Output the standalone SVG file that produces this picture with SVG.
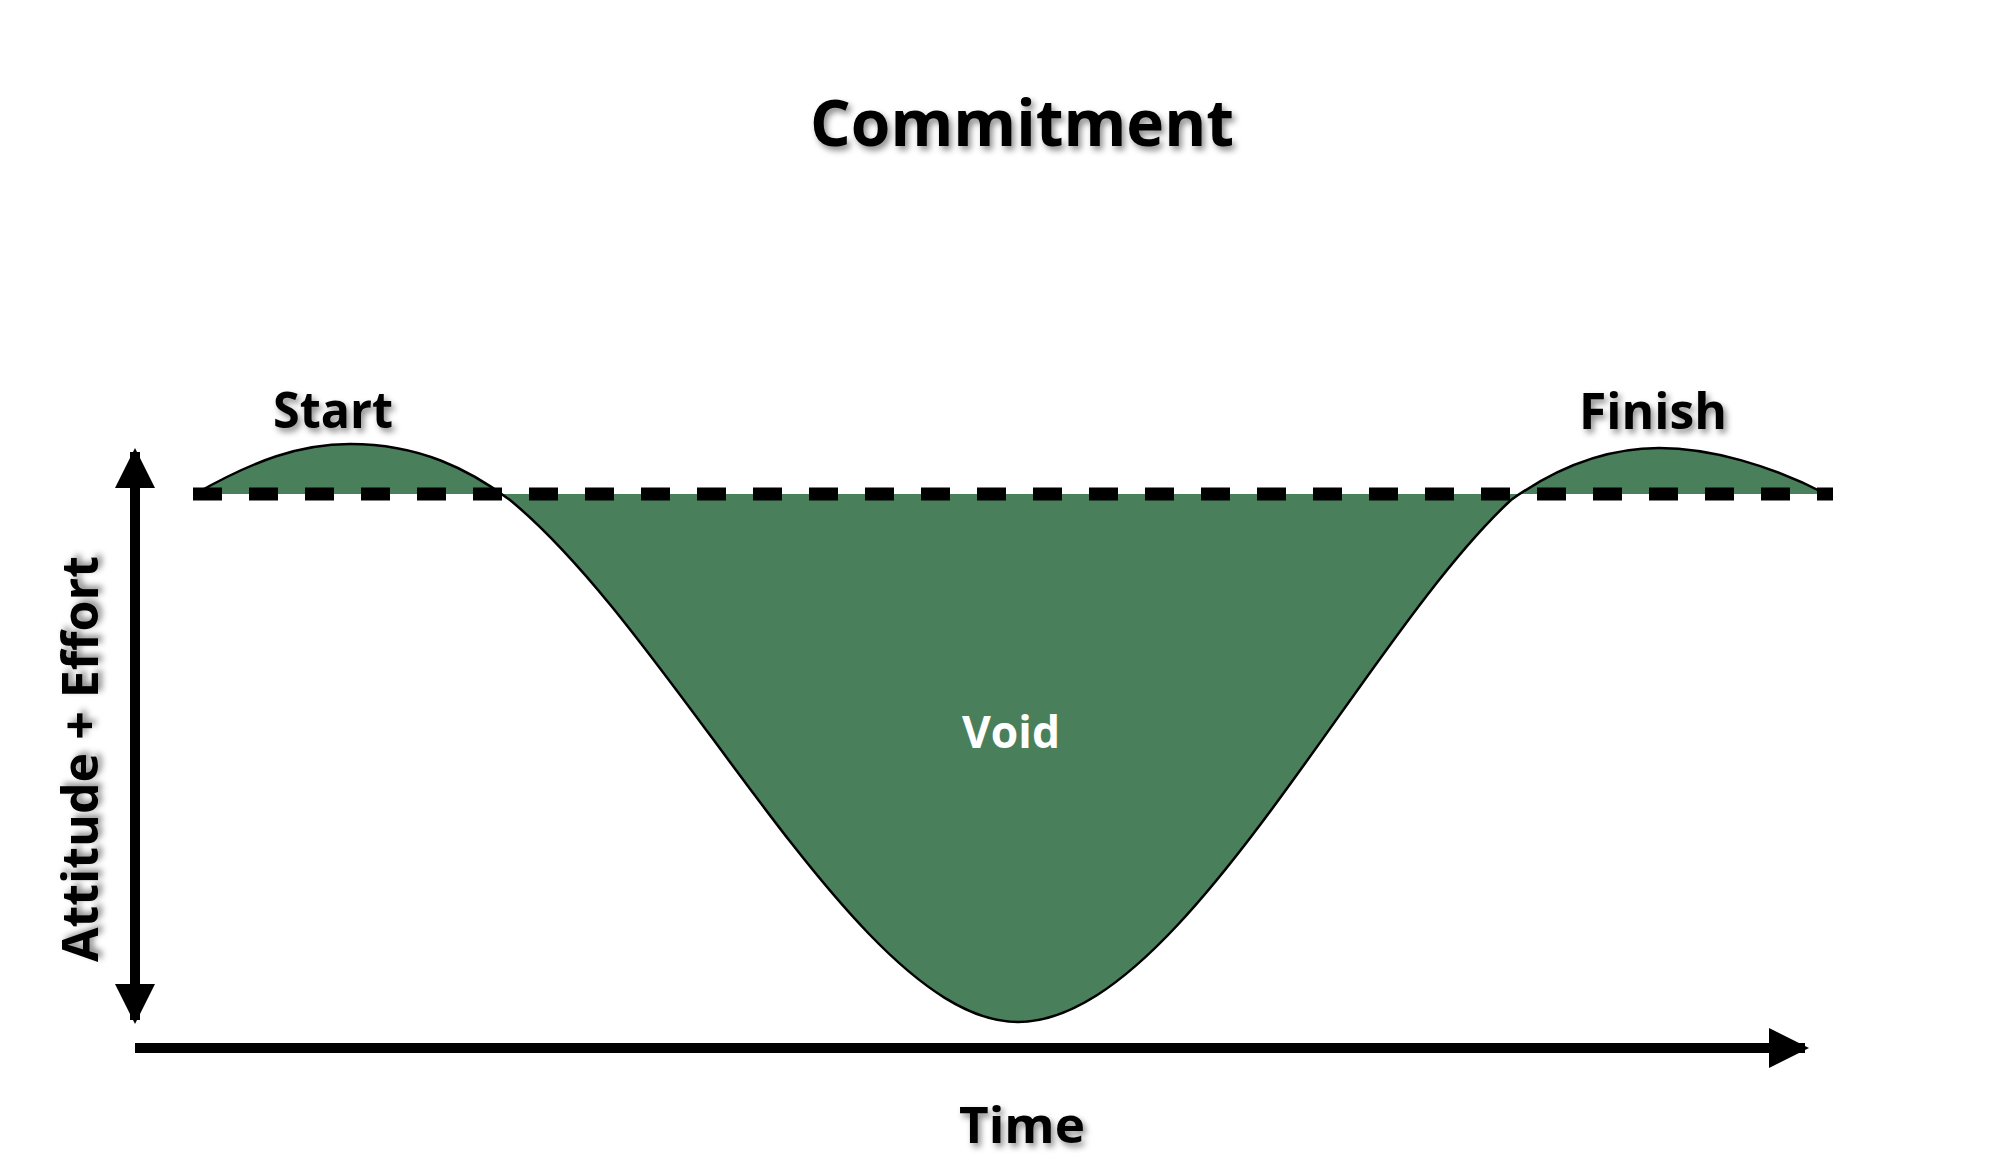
<svg xmlns="http://www.w3.org/2000/svg" width="2006" height="1156" viewBox="0 0 2006 1156">
<defs>
<filter id="sh" x="-20%" y="-20%" width="140%" height="160%"><feDropShadow dx="3" dy="4" stdDeviation="3" flood-color="#000" flood-opacity="0.45"/></filter>
<marker id="ah" viewBox="0 0 10 10" refX="9" refY="5" markerWidth="4" markerHeight="4" orient="auto-start-reverse" markerUnits="strokeWidth"><path d="M0,0 L10,5 L0,10 Z" fill="#000"/></marker>
</defs>
<style>
text{font-family:"Open Sans","Noto Sans",sans-serif;font-weight:bold;text-anchor:middle}
.lbl{fill:#000;filter:url(#sh)}
</style>
<rect width="2006" height="1156" fill="#fff"/>
<g id="curve">
<path d="M195,494 C255,460 300,444 350,444 C420,444 470,470 510,500 C680,640 860,1022 1018,1022 C1180,1022 1360,640 1511,500 C1560,465 1610,448 1659,448 C1710,448 1770,465 1826,494 Z" fill="#4a7f5c" stroke="none"/>
<path d="M195,494 C255,460 300,444 350,444 C420,444 470,470 510,500 C680,640 860,1022 1018,1022 C1180,1022 1360,640 1511,500 C1560,465 1610,448 1659,448 C1710,448 1770,465 1826,494" fill="none" stroke="#000" stroke-width="2.5"/>
</g>
<g id="connectors">
<line x1="193" y1="494" x2="1833" y2="494" stroke="#000" stroke-width="13" stroke-dasharray="29,27"/>
<line x1="135" y1="452" x2="135" y2="1020" stroke="#000" stroke-width="10" marker-start="url(#ah)" marker-end="url(#ah)"/>
<line x1="135" y1="1048" x2="1805" y2="1048" stroke="#000" stroke-width="10" marker-end="url(#ah)"/>
</g>
<g id="title"><text class="lbl" x="1022" y="146" font-size="64" textLength="424" lengthAdjust="spacingAndGlyphs">Commitment</text></g>
<g id="start"><text class="lbl" x="333" y="428" font-size="50" textLength="120" lengthAdjust="spacingAndGlyphs">Start</text></g>
<g id="finish"><text class="lbl" x="1653" y="429" font-size="50" textLength="148" lengthAdjust="spacingAndGlyphs">Finish</text></g>
<g id="void"><text x="1011" y="748" font-size="44" fill="#fff" textLength="98" lengthAdjust="spacingAndGlyphs">Void</text></g>
<g id="time"><text class="lbl" x="1022" y="1143" font-size="50" textLength="126" lengthAdjust="spacingAndGlyphs">Time</text></g>
<g id="yaxis"><text class="lbl" transform="translate(98,759) rotate(-90)" x="0" y="0" font-size="50" textLength="406" lengthAdjust="spacingAndGlyphs">Attitude + Effort</text></g>
</svg>
